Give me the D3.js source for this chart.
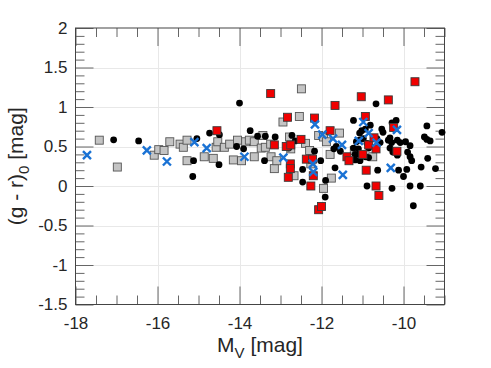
<!DOCTYPE html>
<html>
<head>
<meta charset="utf-8">
<script src="https://cdn.jsdelivr.net/npm/d3@7"></script>
<style>
  body { margin: 0; background: #fff; }
  svg { display: block; font-family: "Liberation Sans", Arial, sans-serif; }
</style>
</head>
<body>
<div class="chart"></div>
<script>
// tick values
var xMajor = [-18, -16, -14, -12, -10];
var yMajor = [-1.5, -1, -0.5, 0, 0.5, 1, 1.5, 2];

// [M_V, (g-r)_0]
var blackDots = [
  [-17.07, 0.585], [-16.46, 0.57], [-15.12, 0.32], [-15.14, 0.12], [-15.04, 0.60],
  [-14.73, 0.67], [-14.49, 0.65], [-14.50, 0.27], [-14.0, 1.05], [-14.07, 0.50],
  [-13.90, 0.47], [-13.74, 0.70], [-13.56, 0.63], [-13.37, 0.63], [-13.39, 0.32],
  [-13.13, 0.62], [-12.80, 0.48], [-12.72, 0.64], [-12.64, 0.57], [-12.46, 0.21],
  [-12.46, 0.05], [-12.17, 0.44], [-12.02, 0.32], [-11.90, 0.07], [-11.91, -0.14],
  [-11.67, 0.23], [-11.64, 0.50], [-11.54, 0.44], [-11.22, 0.83], [-10.67, 1.04],
  [-10.28, 0.80], [-10.18, 0.83], [-9.43, 0.76], [-9.06, 0.68], [-9.49, 0.62],
  [-9.43, 0.59], [-10.53, 0.72], [-10.50, 0.68], [-11.07, 0.67], [-11.02, 0.70],
  [-10.93, 0.72], [-10.81, 0.77], [-11.15, 0.56], [-11.07, 0.58], [-10.98, 0.60],
  [-10.89, 0.54], [-11.10, 0.47], [-11.22, 0.48], [-11.18, 0.40], [-11.07, 0.40],
  [-10.93, 0.37], [-10.85, 0.36], [-11.06, 0.32], [-11.18, 0.33], [-10.85, 0.48],
  [-10.65, 0.60], [-10.57, 0.55], [-10.37, 0.58], [-10.33, 0.61], [-10.29, 0.55],
  [-10.15, 0.58], [-10.08, 0.55], [-9.95, 0.56], [-9.84, 0.51], [-10.33, 0.48],
  [-10.26, 0.43], [-10.15, 0.39], [-9.90, 0.43], [-9.84, 0.37], [-9.80, 0.32],
  [-9.92, 0.21], [-10.12, 0.20], [-10.63, 0.20], [-10.91, 0.20], [-10.0, 0.12],
  [-9.57, 0.24], [-9.41, 0.35], [-9.22, 0.22], [-9.84, 0.0], [-9.59, 0.0],
  [-9.76, -0.25], [-10.89, 0.0], [-10.28, -0.03], [-11.70, 0.47], [-9.35, 0.57]
];

var graySquares = [
  [-17.42, 0.58], [-16.98, 0.24], [-16.08, 0.39], [-15.97, 0.46], [-15.84, 0.45],
  [-15.70, 0.56], [-15.45, 0.53], [-15.37, 0.49], [-15.28, 0.32], [-15.28, 0.58],
  [-14.86, 0.37], [-14.64, 0.35], [-14.57, 0.49], [-14.53, 0.56], [-14.37, 0.49],
  [-14.24, 0.53], [-14.15, 0.33], [-14.05, 0.58], [-13.95, 0.32], [-13.85, 0.56],
  [-13.76, 0.58], [-13.64, 0.37], [-13.64, 0.56], [-13.47, 0.48], [-13.43, 0.64],
  [-13.37, 0.49], [-13.24, 0.53], [-13.23, 0.37], [-13.15, 0.22], [-13.09, 0.32],
  [-12.94, 0.81], [-12.78, 0.62], [-12.75, 0.47], [-12.67, 0.13], [-12.54, 0.88],
  [-12.49, 1.23], [-12.39, 0.54], [-12.29, 0.45], [-12.26, 0.28], [-12.07, 0.64],
  [-11.95, 0.62], [-11.95, -0.03], [-11.88, 0.56], [-11.79, 0.40], [-11.76, 0.10],
  [-11.56, 0.67], [-11.20, 0.45], [-10.75, 0.37]
];

var redSquares = [
  [-14.55, 0.70], [-13.24, 1.17], [-13.15, 0.52], [-12.83, 0.87], [-12.86, 0.50],
  [-12.75, 0.52], [-12.76, 0.28], [-12.76, 0.22], [-12.81, 0.11], [-12.50, 0.59],
  [-12.37, 0.34], [-12.26, 0.0], [-12.17, 0.86], [-12.22, 0.34], [-12.20, 0.13],
  [-12.07, -0.30], [-12.0, -0.26], [-11.79, 0.70], [-11.67, 1.02], [-11.38, 0.37],
  [-11.33, 0.32], [-11.03, 1.13], [-10.93, 0.88], [-10.91, 0.20], [-10.85, 0.52],
  [-10.72, 0.61], [-10.67, 0.47], [-10.67, 0.0], [-10.60, -0.12], [-10.37, 1.09],
  [-10.24, 0.74], [-10.16, 0.44], [-9.72, 1.32], [-10.99, 0.40]
];

var blueCrosses = [
  [-17.72, 0.39], [-16.26, 0.45], [-15.77, 0.31], [-15.10, 0.555], [-14.80, 0.48],
  [-13.88, 0.37], [-12.93, 0.36], [-12.21, 0.28], [-12.20, 0.18], [-12.16, 0.78],
  [-11.98, 0.65], [-11.72, 0.60], [-11.50, 0.52], [-11.48, 0.14], [-11.09, 0.57],
  [-10.98, 0.81], [-10.85, 0.67], [-10.66, 0.55], [-10.31, 0.23], [-10.16, 0.71]
];

var width = 491, height = 368;
var pLeft = 75.5, pRight = 444.5, pTop = 28, pBottom = 304.5;

var svg = d3.select('div.chart').append('svg')
    .attr('width', width)
    .attr('height', height);

var x = d3.scaleLinear().domain([-18, -9]).range([pLeft, pRight]);
var y = d3.scaleLinear().domain([-1.5, 2]).range([pBottom, pTop]);

var xMinor = d3.range(-18, -9 + 0.01, 0.5).filter(function (v) { return xMajor.indexOf(v) < 0; });
var yMinor = d3.range(-15, 21, 1).map(function (v) { return v / 10; })
    .filter(function (v) { return yMajor.indexOf(v) < 0; });

// grid
svg.append('g').selectAll('line')
  .data(xMajor.slice(1))
  .enter().append('line')
  .attr('x1', function (d) { return Math.round(x(d)) + 0.5; })
  .attr('x2', function (d) { return Math.round(x(d)) + 0.5; })
  .attr('y1', pTop).attr('y2', pBottom)
  .attr('stroke', '#e8e8e8');
svg.append('g').selectAll('line')
  .data(yMajor.slice(1, -1))
  .enter().append('line')
  .attr('y1', function (d) { return Math.round(y(d)) + 0.5; })
  .attr('y2', function (d) { return Math.round(y(d)) + 0.5; })
  .attr('x1', pLeft).attr('x2', pRight)
  .attr('stroke', '#e8e8e8');

// ticks on all four sides, pointing in
function tickGroup(axis, tx, ty) {
  var g = svg.append('g')
    .attr('transform', 'translate(' + tx + ',' + ty + ')')
    .call(axis);
  g.select('.domain').remove();
  g.selectAll('.tick line').attr('stroke', '#666');
  return g;
}
var fmt = function (d) { return String(d); };

var xb = tickGroup(d3.axisBottom(x).tickValues(xMajor).tickSize(-18).tickPadding(12).tickFormat(fmt), 0, pBottom);
tickGroup(d3.axisBottom(x).tickValues(xMinor).tickSize(-9).tickFormat(''), 0, pBottom);
tickGroup(d3.axisTop(x).tickValues(xMajor).tickSize(-18).tickFormat(''), 0, pTop);
tickGroup(d3.axisTop(x).tickValues(xMinor).tickSize(-9).tickFormat(''), 0, pTop);
var yl = tickGroup(d3.axisLeft(y).tickValues(yMajor).tickSize(-18).tickPadding(8).tickFormat(fmt), pLeft, 0);
tickGroup(d3.axisLeft(y).tickValues(yMinor).tickSize(-9).tickFormat(''), pLeft, 0);
tickGroup(d3.axisRight(y).tickValues(yMajor).tickSize(-18).tickFormat(''), pRight, 0);
tickGroup(d3.axisRight(y).tickValues(yMinor).tickSize(-9).tickFormat(''), pRight, 0);

xb.selectAll('text').attr('font-size', 17).attr('fill', '#262626')
  .attr('font-family', '"Liberation Sans", Arial, sans-serif');
yl.selectAll('text').attr('font-size', 17).attr('fill', '#262626')
  .attr('font-family', '"Liberation Sans", Arial, sans-serif');

// frame
svg.append('rect')
  .attr('x', pLeft).attr('y', pTop)
  .attr('width', pRight - pLeft).attr('height', pBottom - pTop)
  .attr('fill', 'none').attr('stroke', '#444');

// markers
var sq = 8;
svg.append('g').selectAll('rect')
  .data(graySquares)
  .enter().append('rect')
  .attr('x', function (d) { return x(d[0]) - sq / 2; })
  .attr('y', function (d) { return y(d[1]) - sq / 2; })
  .attr('width', sq).attr('height', sq)
  .attr('fill', '#c4c4c4').attr('stroke', '#555').attr('stroke-width', 0.9);

svg.append('g').selectAll('circle')
  .data(blackDots)
  .enter().append('circle')
  .attr('cx', function (d) { return x(d[0]); })
  .attr('cy', function (d) { return y(d[1]); })
  .attr('r', 3.4)
  .attr('fill', '#000');

svg.append('g').selectAll('rect')
  .data(redSquares)
  .enter().append('rect')
  .attr('x', function (d) { return x(d[0]) - sq / 2; })
  .attr('y', function (d) { return y(d[1]) - sq / 2; })
  .attr('width', sq).attr('height', sq)
  .attr('fill', '#f00000').attr('stroke', '#3a3a3a').attr('stroke-width', 0.9);

svg.append('g').selectAll('path')
  .data(blueCrosses)
  .enter().append('path')
  .attr('transform', function (d) { return 'translate(' + x(d[0]) + ',' + y(d[1]) + ')'; })
  .attr('d', 'M-4,-4L4,4M-4,4L4,-4')
  .attr('stroke', '#1a72d4').attr('stroke-width', 2.4).attr('fill', 'none');

// axis titles
var xt = svg.append('text')
  .attr('x', (pLeft + pRight) / 2).attr('y', 352)
  .attr('text-anchor', 'middle').attr('font-size', 21).attr('fill', '#262626');
xt.append('tspan').text('M');
xt.append('tspan').attr('font-size', 15).attr('dy', 6).text('V');
xt.append('tspan').attr('dy', -6).text(' [mag]');

var yt = svg.append('text')
  .attr('transform', 'translate(23,' + ((pTop + pBottom) / 2) + ') rotate(-90)')
  .attr('text-anchor', 'middle').attr('font-size', 21).attr('fill', '#262626');
yt.append('tspan').text('(g - r)');
yt.append('tspan').attr('font-size', 15).attr('dy', 6).text('0');
yt.append('tspan').attr('dy', -6).text(' [mag]');
</script>
</body>
</html>
